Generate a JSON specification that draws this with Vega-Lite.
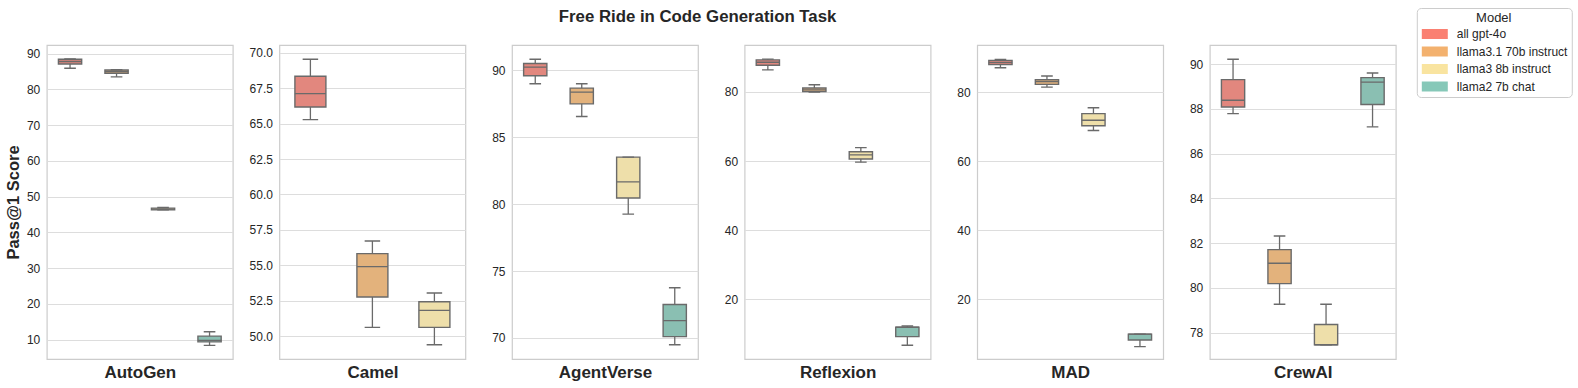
{
  "$schema": "https://vega.github.io/schema/vega-lite/v6.json",
  "background": "white",
  "padding": {"left": 4.8, "top": 7, "right": 2, "bottom": 2},
  "title": {"text": "Free Ride in Code Generation Task", "fontSize": 16.8, "fontWeight": "bold", "font": "Liberation Sans", "color": "#262626", "anchor": "middle", "dx": -91, "offset": -18},
  "data": {"values": [
    {"framework": "AutoGen", "model": "all gpt-4o", "lower": 85.9, "q1": 87.1, "median": 87.8, "q3": 88.4, "upper": 88.5},
    {"framework": "AutoGen", "model": "llama3.1 70b instruct", "lower": 83.5, "q1": 84.5, "median": 85.0, "q3": 85.4, "upper": 85.5},
    {"framework": "AutoGen", "model": "llama3 8b instruct", "lower": 46.3, "q1": 46.3, "median": 46.5, "q3": 46.8, "upper": 47.0},
    {"framework": "AutoGen", "model": "llama2 7b chat", "lower": 8.4, "q1": 9.4, "median": 9.8, "q3": 11.0, "upper": 12.2},
    {"framework": "Camel", "model": "all gpt-4o", "lower": 65.28, "q1": 66.17, "median": 67.11, "q3": 68.34, "upper": 69.53},
    {"framework": "Camel", "model": "llama3.1 70b instruct", "lower": 50.63, "q1": 52.77, "median": 54.91, "q3": 55.83, "upper": 56.72},
    {"framework": "Camel", "model": "llama3 8b instruct", "lower": 49.41, "q1": 50.63, "median": 51.83, "q3": 52.44, "upper": 53.05},
    {"framework": "AgentVerse", "model": "all gpt-4o", "lower": 89.0, "q1": 89.6, "median": 90.25, "q3": 90.52, "upper": 90.83},
    {"framework": "AgentVerse", "model": "llama3.1 70b instruct", "lower": 86.56, "q1": 87.5, "median": 88.38, "q3": 88.68, "upper": 89.0},
    {"framework": "AgentVerse", "model": "llama3 8b instruct", "lower": 79.26, "q1": 80.46, "median": 81.67, "q3": 83.52, "upper": 83.52},
    {"framework": "AgentVerse", "model": "llama2 7b chat", "lower": 69.49, "q1": 70.1, "median": 71.3, "q3": 72.5, "upper": 73.75},
    {"framework": "Reflexion", "model": "all gpt-4o", "lower": 86.4, "q1": 87.76, "median": 88.6, "q3": 89.3, "upper": 89.5},
    {"framework": "Reflexion", "model": "llama3.1 70b instruct", "lower": 80.0, "q1": 80.1, "median": 80.6, "q3": 81.16, "upper": 82.1},
    {"framework": "Reflexion", "model": "llama3 8b instruct", "lower": 59.7, "q1": 60.6, "median": 61.8, "q3": 62.7, "upper": 63.9},
    {"framework": "Reflexion", "model": "llama2 7b chat", "lower": 6.7, "q1": 9.2, "median": 11.9, "q3": 11.9, "upper": 12.3},
    {"framework": "MAD", "model": "all gpt-4o", "lower": 87.1, "q1": 88.0, "median": 88.6, "q3": 89.2, "upper": 89.5},
    {"framework": "MAD", "model": "llama3.1 70b instruct", "lower": 81.5, "q1": 82.3, "median": 83.1, "q3": 83.65, "upper": 84.7},
    {"framework": "MAD", "model": "llama3 8b instruct", "lower": 68.9, "q1": 70.3, "median": 71.9, "q3": 73.8, "upper": 75.5},
    {"framework": "MAD", "model": "llama2 7b chat", "lower": 6.3, "q1": 8.2, "median": 9.9, "q3": 9.9, "upper": 9.9},
    {"framework": "CrewAI", "model": "all gpt-4o", "lower": 87.79, "q1": 88.09, "median": 88.39, "q3": 89.31, "upper": 90.22},
    {"framework": "CrewAI", "model": "llama3.1 70b instruct", "lower": 79.27, "q1": 80.19, "median": 81.1, "q3": 81.71, "upper": 82.32},
    {"framework": "CrewAI", "model": "llama3 8b instruct", "lower": 77.46, "q1": 77.46, "median": 77.46, "q3": 78.36, "upper": 79.27},
    {"framework": "CrewAI", "model": "llama2 7b chat", "lower": 87.2, "q1": 88.2, "median": 89.2, "q3": 89.4, "upper": 89.61}
  ]},
  "config": {
    "font": "Liberation Sans",
    "view": {"stroke": "#cccccc", "strokeWidth": 1.2},
    "axis": {"labelFont": "Liberation Sans", "titleFont": "Liberation Sans", "labelColor": "#262626", "titleColor": "#262626"},
    "axisY": {"grid": true, "gridColor": "#dddddd", "gridWidth": 1, "domain": false, "ticks": false, "labelFontSize": 12, "labelPadding": 7, "labelOverlap": false, "tickCount": 12, "titleFontSize": 16.5, "titleFontWeight": "bold", "titlePadding": 5},
    "axisX": {"labels": false, "ticks": false, "domain": false, "grid": false, "titleFontSize": 17, "titleFontWeight": "bold", "titlePadding": 6},
    "legend": {"labelFont": "Liberation Sans", "titleFont": "Liberation Sans"}
  },
  "bounds": "flush",
  "spacing": 46.6,
  "hconcat": [
    {
      "width": 186, "height": 314,
      "transform": [{"filter": "datum.framework === 'AutoGen'"}],
      "encoding": {
        "x": {"field": "model", "type": "nominal", "sort": ["all gpt-4o", "llama3.1 70b instruct", "llama3 8b instruct", "llama2 7b chat"], "scale": {"paddingInner": 0, "paddingOuter": 0}, "axis": {"title": "AutoGen"}}
      },
      "layer": [
        {"mark": {"type": "rule", "color": "#6a6a6a", "strokeWidth": 1.3}, "encoding": {"y": {"field": "lower", "type": "quantitative", "scale": {"domain": [4.6, 92.4], "nice": false, "zero": false}, "axis": {"title": "Pass@1 Score", "values": [10, 20, 30, 40, 50, 60, 70, 80, 90], "tickCount": 12}}, "y2": {"field": "upper"}}},
        {"mark": {"type": "point", "filled": true, "opacity": 0, "size": 1}, "encoding": {"color": {"field": "model", "type": "nominal", "scale": {"domain": ["all gpt-4o", "llama3.1 70b instruct", "llama3 8b instruct", "llama2 7b chat"], "range": ["#FA8072", "#F3B16E", "#F9E4A0", "#86C8B8"]}, "legend": {"title": "Model", "orient": "none", "legendX": 1370, "legendY": -37, "titleAnchor": "middle", "titleFontSize": 13, "titleFontWeight": "normal", "titleColor": "#262626", "titlePadding": 3, "labelFontSize": 12, "labelColor": "#262626", "symbolType": "M-1,-1H4.2V1H-1Z", "symbolSize": 100, "symbolStrokeWidth": 0, "symbolOpacity": 1, "fillColor": "white", "strokeColor": "#cccccc", "cornerRadius": 4, "padding": 4, "rowPadding": 5.5, "labelOffset": 24}}, "y": {"field": "upper", "type": "quantitative"}}},
        {"mark": {"type": "bar", "width": {"band": 0.5}, "stroke": "#6a6a6a", "strokeWidth": 1.4}, "encoding": {"y": {"field": "q1", "type": "quantitative"}, "y2": {"field": "q3"}, "fill": {"field": "model", "type": "nominal", "scale": {"domain": ["all gpt-4o", "llama3.1 70b instruct", "llama3 8b instruct", "llama2 7b chat"], "range": ["#E2877E", "#E3B27C", "#EEDFAA", "#8ABFB2"]}, "legend": null}}},
        {"mark": {"type": "bar", "width": {"band": 0.5}, "fill": null, "stroke": "#6a6a6a", "strokeWidth": 1.4}, "encoding": {"y": {"field": "median", "type": "quantitative"}, "y2": {"field": "median"}}},
        {"mark": {"type": "bar", "width": {"band": 0.25}, "fill": null, "stroke": "#6a6a6a", "strokeWidth": 1.4}, "encoding": {"y": {"field": "upper", "type": "quantitative"}, "y2": {"field": "upper"}}},
        {"mark": {"type": "bar", "width": {"band": 0.25}, "fill": null, "stroke": "#6a6a6a", "strokeWidth": 1.4}, "encoding": {"y": {"field": "lower", "type": "quantitative"}, "y2": {"field": "lower"}}}
      ]
    },
    {
      "width": 186, "height": 314,
      "transform": [{"filter": "datum.framework === 'Camel'"}],
      "encoding": {
        "x": {"field": "model", "type": "nominal", "sort": ["all gpt-4o", "llama3.1 70b instruct", "llama3 8b instruct", "llama2 7b chat"], "scale": {"paddingInner": 0, "paddingOuter": 0}, "axis": {"title": "Camel"}}
      },
      "layer": [
        {"mark": {"type": "rule", "color": "#6a6a6a", "strokeWidth": 1.3}, "encoding": {"y": {"field": "lower", "type": "quantitative", "scale": {"domain": [48.4, 70.54], "nice": false, "zero": false}, "axis": {"title": null, "values": [50, 52.5, 55, 57.5, 60, 62.5, 65, 67.5, 70], "format": ".1f", "tickCount": 12}}, "y2": {"field": "upper"}}},
        {"mark": {"type": "bar", "width": {"band": 0.5}, "stroke": "#6a6a6a", "strokeWidth": 1.4}, "encoding": {"y": {"field": "q1", "type": "quantitative"}, "y2": {"field": "q3"}, "fill": {"field": "model", "type": "nominal", "legend": null}}},
        {"mark": {"type": "bar", "width": {"band": 0.5}, "fill": null, "stroke": "#6a6a6a", "strokeWidth": 1.4}, "encoding": {"y": {"field": "median", "type": "quantitative"}, "y2": {"field": "median"}}},
        {"mark": {"type": "bar", "width": {"band": 0.25}, "fill": null, "stroke": "#6a6a6a", "strokeWidth": 1.4}, "encoding": {"y": {"field": "upper", "type": "quantitative"}, "y2": {"field": "upper"}}},
        {"mark": {"type": "bar", "width": {"band": 0.25}, "fill": null, "stroke": "#6a6a6a", "strokeWidth": 1.4}, "encoding": {"y": {"field": "lower", "type": "quantitative"}, "y2": {"field": "lower"}}}
      ]
    },
    {
      "width": 186, "height": 314,
      "transform": [{"filter": "datum.framework === 'AgentVerse'"}],
      "encoding": {
        "x": {"field": "model", "type": "nominal", "sort": ["all gpt-4o", "llama3.1 70b instruct", "llama3 8b instruct", "llama2 7b chat"], "scale": {"paddingInner": 0, "paddingOuter": 0}, "axis": {"title": "AgentVerse"}}
      },
      "layer": [
        {"mark": {"type": "rule", "color": "#6a6a6a", "strokeWidth": 1.3}, "encoding": {"y": {"field": "lower", "type": "quantitative", "scale": {"domain": [68.43, 91.9], "nice": false, "zero": false}, "axis": {"title": null, "values": [70, 75, 80, 85, 90]}}, "y2": {"field": "upper"}}},
        {"mark": {"type": "bar", "width": {"band": 0.5}, "stroke": "#6a6a6a", "strokeWidth": 1.4}, "encoding": {"y": {"field": "q1", "type": "quantitative"}, "y2": {"field": "q3"}, "fill": {"field": "model", "type": "nominal", "legend": null}}},
        {"mark": {"type": "bar", "width": {"band": 0.5}, "fill": null, "stroke": "#6a6a6a", "strokeWidth": 1.4}, "encoding": {"y": {"field": "median", "type": "quantitative"}, "y2": {"field": "median"}}},
        {"mark": {"type": "bar", "width": {"band": 0.25}, "fill": null, "stroke": "#6a6a6a", "strokeWidth": 1.4}, "encoding": {"y": {"field": "upper", "type": "quantitative"}, "y2": {"field": "upper"}}},
        {"mark": {"type": "bar", "width": {"band": 0.25}, "fill": null, "stroke": "#6a6a6a", "strokeWidth": 1.4}, "encoding": {"y": {"field": "lower", "type": "quantitative"}, "y2": {"field": "lower"}}}
      ]
    },
    {
      "width": 186, "height": 314,
      "transform": [{"filter": "datum.framework === 'Reflexion'"}],
      "encoding": {
        "x": {"field": "model", "type": "nominal", "sort": ["all gpt-4o", "llama3.1 70b instruct", "llama3 8b instruct", "llama2 7b chat"], "scale": {"paddingInner": 0, "paddingOuter": 0}, "axis": {"title": "Reflexion"}}
      },
      "layer": [
        {"mark": {"type": "rule", "color": "#6a6a6a", "strokeWidth": 1.3}, "encoding": {"y": {"field": "lower", "type": "quantitative", "scale": {"domain": [2.73, 93.6], "nice": false, "zero": false}, "axis": {"title": null, "values": [20, 40, 60, 80]}}, "y2": {"field": "upper"}}},
        {"mark": {"type": "bar", "width": {"band": 0.5}, "stroke": "#6a6a6a", "strokeWidth": 1.4}, "encoding": {"y": {"field": "q1", "type": "quantitative"}, "y2": {"field": "q3"}, "fill": {"field": "model", "type": "nominal", "legend": null}}},
        {"mark": {"type": "bar", "width": {"band": 0.5}, "fill": null, "stroke": "#6a6a6a", "strokeWidth": 1.4}, "encoding": {"y": {"field": "median", "type": "quantitative"}, "y2": {"field": "median"}}},
        {"mark": {"type": "bar", "width": {"band": 0.25}, "fill": null, "stroke": "#6a6a6a", "strokeWidth": 1.4}, "encoding": {"y": {"field": "upper", "type": "quantitative"}, "y2": {"field": "upper"}}},
        {"mark": {"type": "bar", "width": {"band": 0.25}, "fill": null, "stroke": "#6a6a6a", "strokeWidth": 1.4}, "encoding": {"y": {"field": "lower", "type": "quantitative"}, "y2": {"field": "lower"}}}
      ]
    },
    {
      "width": 186, "height": 314,
      "transform": [{"filter": "datum.framework === 'MAD'"}],
      "encoding": {
        "x": {"field": "model", "type": "nominal", "sort": ["all gpt-4o", "llama3.1 70b instruct", "llama3 8b instruct", "llama2 7b chat"], "scale": {"paddingInner": 0, "paddingOuter": 0}, "axis": {"title": "MAD"}}
      },
      "layer": [
        {"mark": {"type": "rule", "color": "#6a6a6a", "strokeWidth": 1.3}, "encoding": {"y": {"field": "lower", "type": "quantitative", "scale": {"domain": [2.7, 93.7], "nice": false, "zero": false}, "axis": {"title": null, "values": [20, 40, 60, 80]}}, "y2": {"field": "upper"}}},
        {"mark": {"type": "bar", "width": {"band": 0.5}, "stroke": "#6a6a6a", "strokeWidth": 1.4}, "encoding": {"y": {"field": "q1", "type": "quantitative"}, "y2": {"field": "q3"}, "fill": {"field": "model", "type": "nominal", "legend": null}}},
        {"mark": {"type": "bar", "width": {"band": 0.5}, "fill": null, "stroke": "#6a6a6a", "strokeWidth": 1.4}, "encoding": {"y": {"field": "median", "type": "quantitative"}, "y2": {"field": "median"}}},
        {"mark": {"type": "bar", "width": {"band": 0.25}, "fill": null, "stroke": "#6a6a6a", "strokeWidth": 1.4}, "encoding": {"y": {"field": "upper", "type": "quantitative"}, "y2": {"field": "upper"}}},
        {"mark": {"type": "bar", "width": {"band": 0.25}, "fill": null, "stroke": "#6a6a6a", "strokeWidth": 1.4}, "encoding": {"y": {"field": "lower", "type": "quantitative"}, "y2": {"field": "lower"}}}
      ]
    },
    {
      "width": 186, "height": 314,
      "transform": [{"filter": "datum.framework === 'CrewAI'"}],
      "encoding": {
        "x": {"field": "model", "type": "nominal", "sort": ["all gpt-4o", "llama3.1 70b instruct", "llama3 8b instruct", "llama2 7b chat"], "scale": {"paddingInner": 0, "paddingOuter": 0}, "axis": {"title": "CrewAI"}}
      },
      "layer": [
        {"mark": {"type": "rule", "color": "#6a6a6a", "strokeWidth": 1.3}, "encoding": {"y": {"field": "lower", "type": "quantitative", "scale": {"domain": [76.82, 90.86], "nice": false, "zero": false}, "axis": {"title": null, "values": [78, 80, 82, 84, 86, 88, 90]}}, "y2": {"field": "upper"}}},
        {"mark": {"type": "bar", "width": {"band": 0.5}, "stroke": "#6a6a6a", "strokeWidth": 1.4}, "encoding": {"y": {"field": "q1", "type": "quantitative"}, "y2": {"field": "q3"}, "fill": {"field": "model", "type": "nominal", "legend": null}}},
        {"mark": {"type": "bar", "width": {"band": 0.5}, "fill": null, "stroke": "#6a6a6a", "strokeWidth": 1.4}, "encoding": {"y": {"field": "median", "type": "quantitative"}, "y2": {"field": "median"}}},
        {"mark": {"type": "bar", "width": {"band": 0.25}, "fill": null, "stroke": "#6a6a6a", "strokeWidth": 1.4}, "encoding": {"y": {"field": "upper", "type": "quantitative"}, "y2": {"field": "upper"}}},
        {"mark": {"type": "bar", "width": {"band": 0.25}, "fill": null, "stroke": "#6a6a6a", "strokeWidth": 1.4}, "encoding": {"y": {"field": "lower", "type": "quantitative"}, "y2": {"field": "lower"}}}
      ]
    }
  ]
}
